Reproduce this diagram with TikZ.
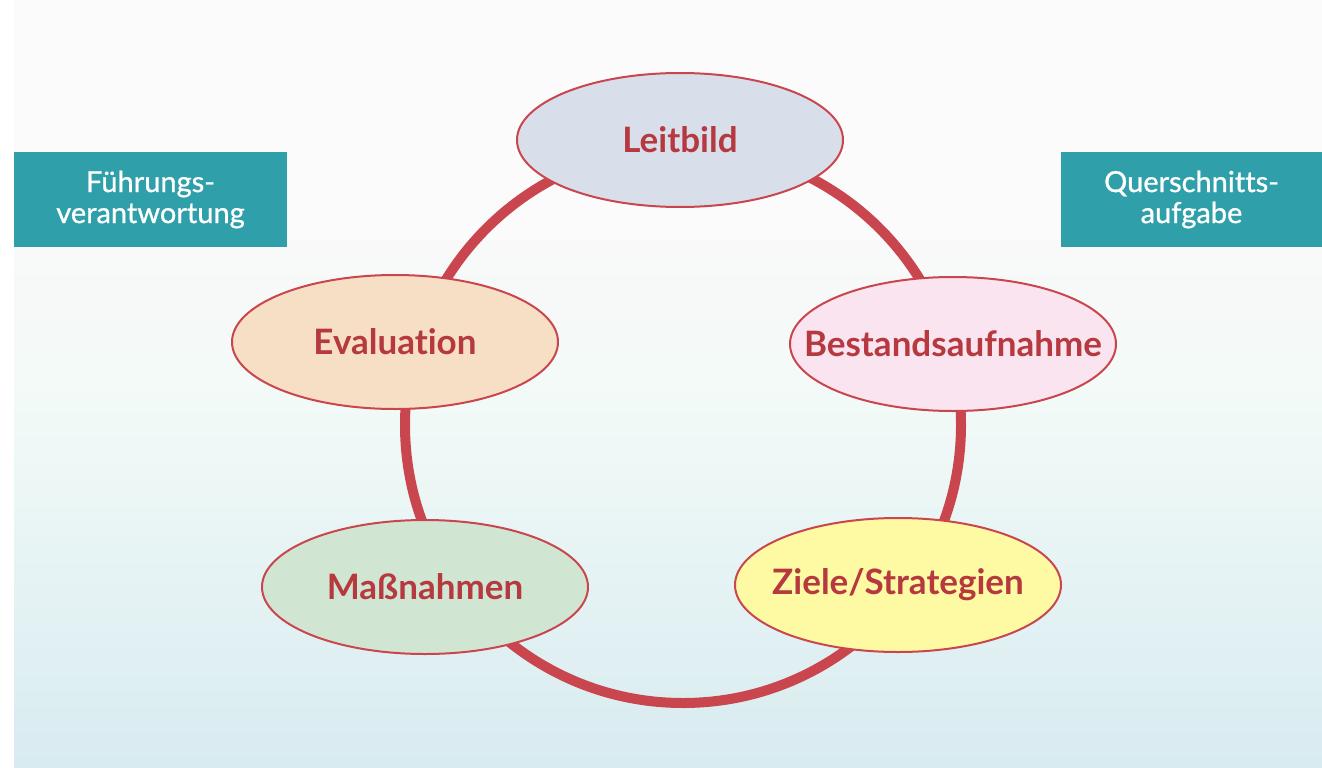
\documentclass[tikz,border=0pt]{standalone}
\usepackage{fontspec}
\setmainfont{Lato}[Ligatures=NoCommon]
\newfontfamily\boxfont{Lato}[Ligatures=NoCommon, FakeBold=0.9]
\usetikzlibrary{shapes.geometric}
\definecolor{ringred}{HTML}{C9464F}
\definecolor{txtred}{HTML}{B5393F}
\definecolor{teal}{HTML}{2F9FA9}
\definecolor{cLeit}{HTML}{D8DFEB}
\definecolor{cEval}{HTML}{F6DFC4}
\definecolor{cBest}{HTML}{F9E4EF}
\definecolor{cMass}{HTML}{D0E6D3}
\definecolor{cZiel}{HTML}{FEF9A3}
\definecolor{bgtop}{HTML}{FBFBFB}
\definecolor{bgA}{HTML}{F9F9F9}
\definecolor{bgB}{HTML}{F2FAF7}
\definecolor{bgM}{HTML}{E6F5F5}
\definecolor{bgC}{HTML}{D8EBF0}
\tikzset{
  stage/.style={ellipse, draw=ringred, line width=2pt, minimum width=326pt, minimum height=134pt, inner sep=0pt,
    text=txtred, font=\fontsize{35}{40}\selectfont\bfseries},
  tealbox/.style={rectangle, fill=teal, text=white, inner sep=0pt, align=center,
    font=\fontsize{29}{31}\boxfont},
  ringstyle/.style={circle, draw=ringred, line width=10pt, minimum size=556pt, inner sep=0pt}
}
\newcommand{\zw}[1]{\makebox[0pt][c]{#1}}
\begin{document}
\begin{tikzpicture}[x=1pt,y=-1pt]
\useasboundingbox (0,0) rectangle (1322,768);
\fill[white] (0,0) rectangle (1322,768);
\fill[bgtop] (14,0) rectangle (1322,240);
\shade[top color=bgA, bottom color=bgB] (14,240) rectangle (1322,400.5);
\shade[top color=bgB, middle color=bgM, bottom color=bgC] (14,400) rectangle (1322,768);
\node[ringstyle] (ring) at (683,425) {};
\node[stage, fill=cLeit] (leit) at (680,140) {\zw{Leitbild}};
\node[stage, fill=cBest] (best) at (953,344) {\zw{Bestandsaufnahme}};
\node[stage, fill=cZiel] (ziel) at (898,585) {\zw{Ziele/Strategien}};
\node[stage, fill=cMass] (mass) at (425,587) {\zw{Maßnahmen}};
\node[stage, fill=cEval] (eval) at (395,342) {\zw{Evaluation}};
\node[tealbox, minimum width=273pt, minimum height=95pt] (fuehr) at (150.5,199.5) {Führungs-\\verantwortung};
\node[tealbox, minimum width=261pt, minimum height=95pt] (quer) at (1191.5,199.5) {Querschnitts-\\aufgabe};
\end{tikzpicture}
\end{document}
